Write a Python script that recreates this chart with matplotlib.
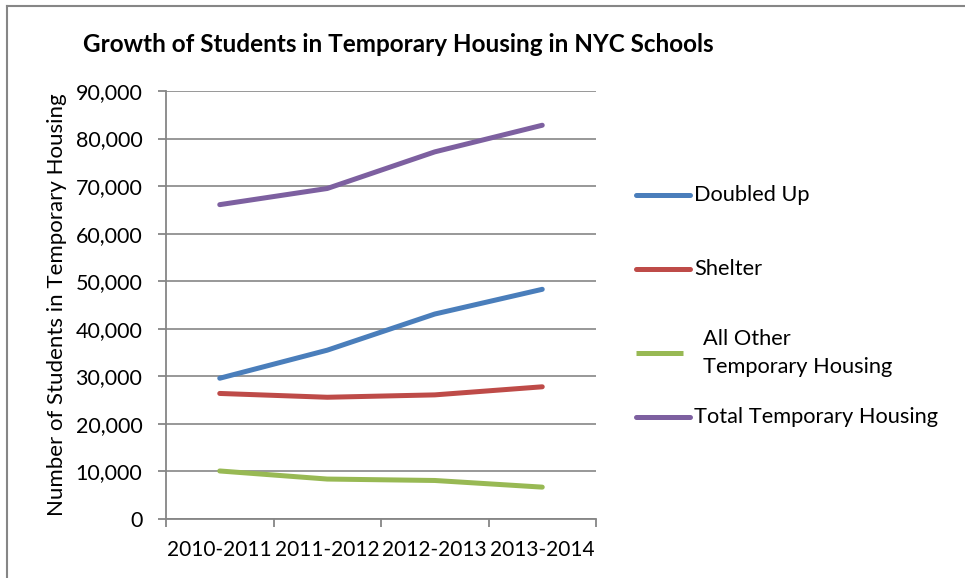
import matplotlib
matplotlib.use('Agg')

import matplotlib.pyplot as plt
from matplotlib.lines import Line2D
from matplotlib.ticker import FuncFormatter

# ---------------------------
# DATA
# ---------------------------
years = ["2010-2011", "2011-2012", "2012-2013", "2013-2014"]
doubled_up = [29600, 35500, 43100, 48300]
shelter = [26400, 25600, 26100, 27800]
all_other = [10100, 8400, 8100, 6700]
total = [66100, 69500, 77200, 82800]

series_names = ["Doubled Up", "Shelter", "All Other\nTemporary Housing", "Total Temporary Housing"]
colors = ["#4a7ebb", "#be4b48", "#98b954", "#7d60a0"]

W, H = 965, 578
plt.rcParams['font.family'] = ['Lato', 'DejaVu Sans']

fig = plt.figure(figsize=(W / 100, H / 100), dpi=100)
ax = fig.add_axes([166 / W, 1 - 519 / H, (596 - 166) / W, (519 - 91) / H])

grid_c = "#868686"
x = list(range(len(years)))
for vals, c in zip([doubled_up, shelter, all_other, total], colors):
    ax.plot(x, vals, color=c, lw=3.6, solid_capstyle='round', solid_joinstyle='round', zorder=3)

ax.set_xlim(-0.5, 3.5)
ax.set_ylim(0, 90000)
ax.set_yticks(range(0, 90001, 10000))
ax.yaxis.set_major_formatter(FuncFormatter(lambda v, p: f"{int(v):,}"))
ax.set_xticks([i + 0.5 for i in range(-1, 4)])
ax.set_xticklabels([])
ax.set_xticks(x, minor=True)
ax.set_xticklabels(years, minor=True)
ax.tick_params(axis='x', which='minor', length=0, pad=15, labelsize=15)
ax.tick_params(axis='x', which='major', length=6, width=1.3, color=grid_c)
ax.tick_params(axis='y', length=6, width=1.3, color=grid_c, pad=11, labelsize=15.5)

ax.grid(axis='y', color=grid_c, lw=1.2)
ax.set_axisbelow(True)
for s in ['top', 'right']:
    ax.spines[s].set_visible(False)
for s in ['left', 'bottom']:
    ax.spines[s].set_color(grid_c)
    ax.spines[s].set_linewidth(1.3)

# title and axis label
fig.text(83 / W, 1 - 44 / H, "Growth of Students in Temporary Housing in NYC Schools",
         ha='left', va='center', fontsize=17.5, fontweight='bold')
fig.text(57 / W, 1 - 305 / H, "Number of Students in Temporary Housing",
         ha='center', va='center', rotation=90, fontsize=16)

# legend drawn by hand
leg_rows = [195, 269, 353, 417]
leg_x1 = [690, 690, 683, 690]
leg_tx = [694, 694, 703, 694]
for name, c, yy, x1, tx in zip(series_names, colors, leg_rows, leg_x1, leg_tx):
    fig.add_artist(Line2D([636 / W, x1 / W], [1 - yy / H, 1 - yy / H], color=c, lw=3.6,
                          solid_capstyle='round' if x1 == 690 else 'butt'))
    fig.text(tx / W, 1 - yy / H, name, ha='left', va='center', fontsize=15.7, linespacing=1.45)

# chart border
fig.add_artist(Line2D([6.5 / W, 6.5 / W], [0, 1 - 5.5 / H], color=grid_c, lw=1.5))
fig.add_artist(Line2D([6.5 / W, 1], [1 - 5.5 / H, 1 - 5.5 / H], color=grid_c, lw=1.5))

fig.savefig("out.png", dpi=100, facecolor='white')
